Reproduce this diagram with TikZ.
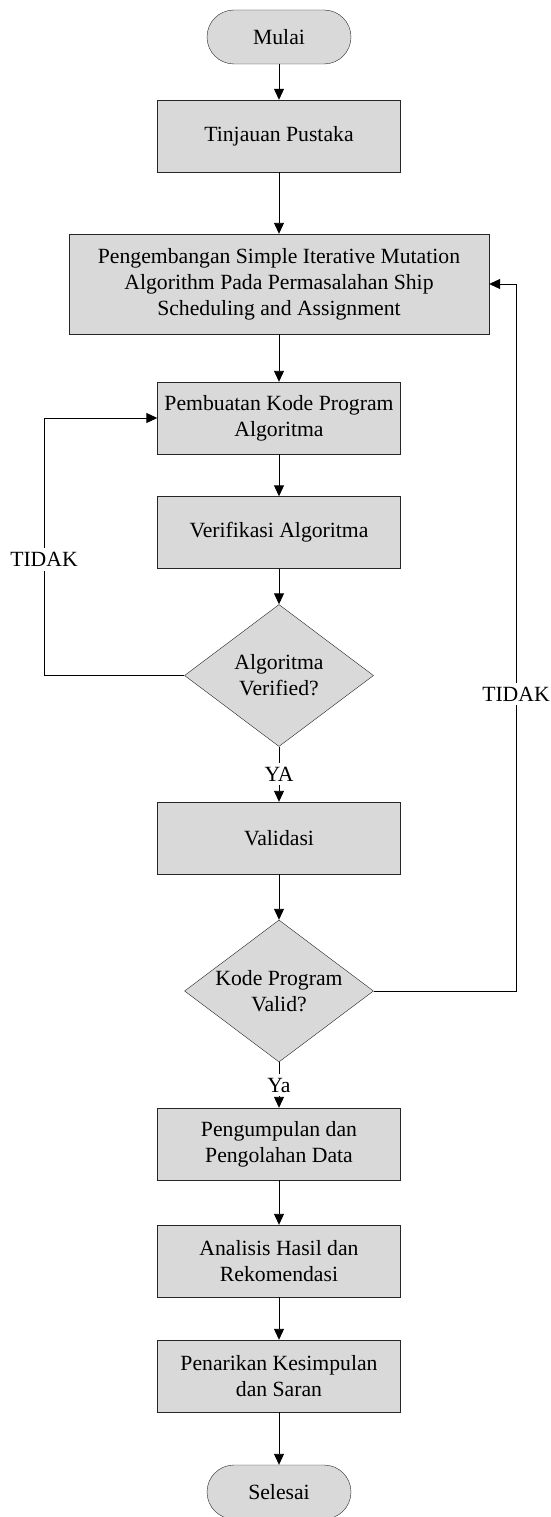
\documentclass[tikz,border=0pt]{standalone}
\usepackage{fontspec}
\setmainfont{Liberation Serif}
\usetikzlibrary{shapes.geometric,arrows.meta}

\begin{document}
\begin{tikzpicture}[x=1pt, y=-1pt,
        every node/.style={font=\fontsize{21.7}{26}\selectfont, align=center},
        terminal/.style={draw=black!85, fill=black!15, rounded corners=27pt, minimum width=144pt, minimum height=54pt},
        proses/.style={draw=black!85, fill=black!15, minimum width=243pt, minimum height=72pt, inner sep=2pt},
        keputusan/.style={diamond, draw=black!85, fill=black!15, minimum width=189pt, minimum height=142pt, inner sep=0pt, aspect=1.33},
        panah/.style={-{Triangle[length=11pt, width=10pt]}, line width=0.9pt},
        jawab/.style={fill=white, inner sep=4pt}]
    \useasboundingbox (0,0) rectangle (551,1517);

    \node[terminal] (mulai) at (279,37) {Mulai};
    \node[proses] (tinjauan) at (279,136) {Tinjauan Pustaka};
    \node[proses, minimum width=420pt, minimum height=100pt] (pengembangan) at (279,284)
        {Pengembangan Simple Iterative Mutation\\Algorithm Pada Permasalahan Ship\\Scheduling and Assignment};
    \node[proses] (pembuatan) at (279,418) {Pembuatan Kode Program\\Algoritma};
    \node[proses] (verifikasi) at (279,532.5) {Verifikasi Algoritma};
    \node[keputusan] (verified) at (279,675.5) {Algoritma\\Verified?};
    \node[proses] (validasi) at (279,838) {Validasi};
    \node[keputusan] (valid) at (279,991) {Kode Program\\Valid?};
    \node[proses] (data) at (279,1144) {Pengumpulan dan\\Pengolahan Data};
    \node[proses] (analisis) at (279,1261) {Analisis Hasil dan\\Rekomendasi};
    \node[proses] (kesimpulan) at (279,1376) {Penarikan Kesimpulan\\dan Saran};
    \node[terminal] (selesai) at (279,1492) {Selesai};

    \draw[panah] (mulai) -- (tinjauan);
    \draw[panah] (tinjauan) -- (pengembangan);
    \draw[panah] (pengembangan) -- (pembuatan);
    \draw[panah] (pembuatan) -- (verifikasi);
    \draw[panah] (verifikasi) -- (verified);
    \draw[panah] (verified) -- node[jawab] {YA} (validasi);
    \draw[panah] (validasi) -- (valid);
    \draw[panah] (valid) -- node[jawab] {Ya} (data);
    \draw[panah] (data) -- (analisis);
    \draw[panah] (analisis) -- (kesimpulan);
    \draw[panah] (kesimpulan) -- (selesai);

    % loop balik
    \coordinate (kiri) at (44,675.5);
    \coordinate (kanan) at (516,991);
    \draw[panah] (verified.west) -- (kiri) -- node[jawab, pos=0.45] {TIDAK} (kiri |- pembuatan.west) -- (pembuatan.west);
    \draw[panah] (valid.east) -- (kanan) -- node[jawab, pos=0.42] {TIDAK} (kanan |- pengembangan.east) -- (pengembangan.east);
\end{tikzpicture}
\end{document}
